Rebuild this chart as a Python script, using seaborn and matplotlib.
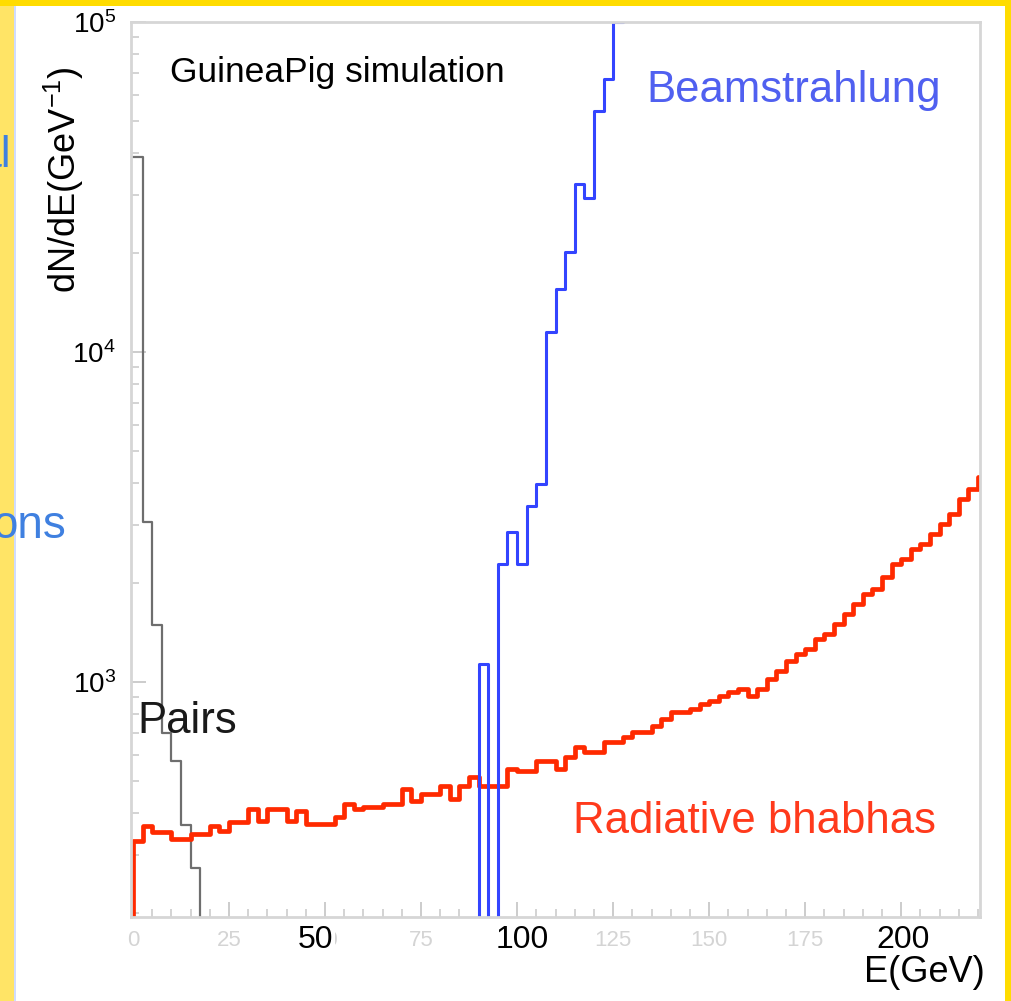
import numpy as np
import pandas as pd
import matplotlib
matplotlib.use("Agg")
import matplotlib.pyplot as plt
from matplotlib.patches import Rectangle
from matplotlib.ticker import MultipleLocator, LogLocator, NullFormatter
import seaborn as sns

# ---------------------------------------------------------------------------
# GuineaPig spectra, dN/dE per 2.5 GeV bin (first entry of each list starts at
# the given edge; entries of 1 sit below the plotted range and close the step)
# ---------------------------------------------------------------------------
BIN_WIDTH = 2.5

pairs_start = 0.0
pairs_dnde = [39000, 3050, 1490, 700, 576, 369, 273, 1]

beam_start = 87.5
beam_dnde = [1, 1134, 1, 2280, 2850, 2280, 3410, 3980, 11500, 15500,
             20100, 32300, 29300, 53700, 67100, 100000]

bhabha_start = -2.5
bhabha_dnde = [1,
               330, 366, 351, 351, 334, 334, 346, 346, 366, 353,
               376, 376, 412, 379, 412, 412, 379, 406, 371, 371,
               371, 390, 427, 412, 418, 418, 427, 427, 474, 436,
               458, 458, 484, 442, 484, 515, 484, 484, 484, 545,
               537, 537, 576, 576, 545, 592, 635, 614, 614, 658,
               658, 681, 706, 706, 736, 772, 811, 811, 828, 858,
               876, 907, 933, 952, 907, 952, 1021, 1080, 1158, 1216,
               1258, 1350, 1398, 1499, 1607, 1723, 1848, 1913, 2080, 2279,
               2359, 2529, 2620, 2810, 3010, 3230, 3585, 3845, 4180]

x_major_ticks = [0, 25, 50, 75, 100, 125, 150, 175, 200]
x_overlay_labels = ["50", "100", "200"]
x_overlay_pos = [47.4, 101.3, 200.5]

W, H = 1011, 1001

sns.set_style("ticks")
plt.rcParams["font.family"] = ["Liberation Sans", "DejaVu Sans"]
plt.rcParams["mathtext.default"] = "regular"

fig = plt.figure(figsize=(W / 100, H / 100), dpi=100, facecolor="white")


def fx(px):
    return px / W


def fy(py):
    return 1 - py / H


# slide frame around the plot
fig.patches.append(Rectangle((0, 0), fx(14), 1, transform=fig.transFigure,
                             facecolor="#ffe466", edgecolor="none", zorder=0))
fig.patches.append(Rectangle((fx(14), 0), fx(2), 1, transform=fig.transFigure,
                             facecolor="#cfdcff", edgecolor="none", zorder=0))
fig.patches.append(Rectangle((0, fy(6)), 1, fy(0) - fy(6), transform=fig.transFigure,
                             facecolor="#ffdc00", edgecolor="none", zorder=0))
fig.patches.append(Rectangle((fx(1005), 0), fx(6), 1, transform=fig.transFigure,
                             facecolor="#ffdc00", edgecolor="none", zorder=0))

ax = fig.add_axes([fx(131), fy(917), fx(980) - fx(131), fy(22) - fy(917)])
ax.set_facecolor("white")
ax.set_yscale("log")


def spectrum(start, values):
    n = len(values)
    edges = start + BIN_WIDTH * np.arange(n + 1)
    centers = edges[:-1] + BIN_WIDTH / 2
    return pd.DataFrame({"E": centers, "dNdE": values}), [float(e) for e in edges]


pairs_df, pairs_edges = spectrum(pairs_start, pairs_dnde)
bhabha_df, bhabha_edges = spectrum(bhabha_start, bhabha_dnde)
beam_df, beam_edges = spectrum(beam_start, beam_dnde)

sns.histplot(data=pairs_df, x="E", weights="dNdE", bins=pairs_edges,
             element="step", fill=False, color="#6e6e6e", linewidth=1.6, ax=ax)
sns.histplot(data=bhabha_df, x="E", weights="dNdE", bins=bhabha_edges,
             element="step", fill=False, color="#ff2a00", linewidth=3.4, ax=ax)
sns.histplot(data=beam_df, x="E", weights="dNdE", bins=beam_edges,
             element="step", fill=False, color="#3344ff", linewidth=2.2, ax=ax)

ax.set_xlim(-0.5, 220.5)
ax.set_ylim(194, 1e5)
ax.set_xlabel("")
ax.set_ylabel("")

for s in ax.spines.values():
    s.set_color("#d6d6d6")
    s.set_linewidth(2)

ax.set_xticks(x_major_ticks)
ax.xaxis.set_minor_locator(MultipleLocator(5))
ax.yaxis.set_major_locator(LogLocator(base=10, numticks=10))
ax.yaxis.set_minor_locator(LogLocator(base=10, subs=np.arange(2, 10), numticks=20))
ax.yaxis.set_minor_formatter(NullFormatter())
ax.tick_params(axis="both", which="both", direction="in", color="#c8c8c8",
               top=False, right=False)
ax.tick_params(axis="both", which="major", length=11, width=1.3)
ax.tick_params(axis="both", which="minor", length=6, width=1.1)
ax.tick_params(axis="x", which="major", labelsize=16, labelcolor="#d4d4d4", pad=9)
ax.tick_params(axis="y", which="major", labelsize=20, labelcolor="black", pad=11)

# bold annotations on the energy axis
xt = ax.get_xaxis_transform()
for lab, pos in zip(x_overlay_labels, x_overlay_pos):
    ax.text(pos, -0.026, lab, transform=xt, ha="center", va="center",
            fontsize=23, color="black", clip_on=False, zorder=10,
            bbox=dict(facecolor="white", edgecolor="none", pad=1.5))

fig.text(fx(985), fy(972), "E(GeV)", ha="right", va="center", fontsize=26,
         color="black", bbox=dict(facecolor="white", edgecolor="none", pad=1))
fig.text(fx(64), fy(180), "dN/dE(GeV$^{-1}$)", rotation=90, ha="center",
         va="center", fontsize=26, color="black")

fig.text(fx(170), fy(82), "GuineaPig simulation", ha="left", va="baseline",
         fontsize=25.5, color="black")
fig.text(fx(646), fy(102), "Beamstrahlung", ha="left", va="baseline",
         fontsize=31.5, color="#5060f0")
fig.text(fx(573), fy(833), "Radiative bhabhas", ha="left", va="baseline",
         fontsize=31.5, color="#ff3a1c")
fig.text(fx(137), fy(733), "Pairs", ha="left", va="baseline",
         fontsize=31.5, color="#1a1a1a")

# slide text running in from the left
fig.text(fx(11), fy(167), "al", ha="right", va="baseline", fontsize=32,
         color="#3f80e0")
fig.text(fx(66), fy(538), "ons", ha="right", va="baseline", fontsize=33,
         color="#3f80e0")

fig.savefig("out.png", dpi=100, facecolor="white")
